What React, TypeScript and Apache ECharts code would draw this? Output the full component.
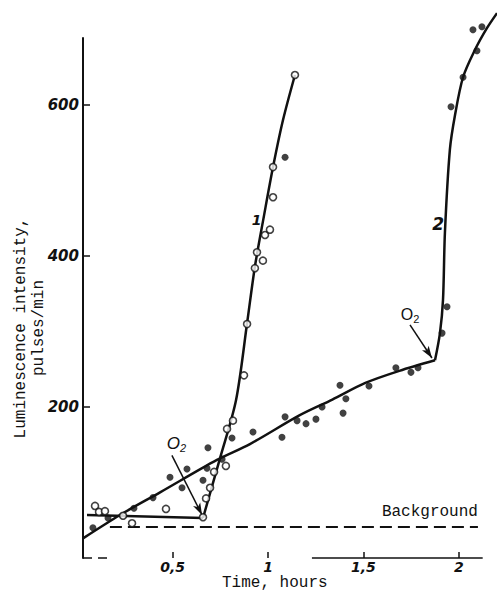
import React, { useEffect, useRef } from "react";
import * as echarts from "echarts";

// ---- data (x = hours, y = pulses/min) ----
const xTickValues = [0.5, 1, 1.5, 2];
const yTickValues = [200, 400, 600];

const backgroundLevel: [number, number][] = [
  [0.171, 41],
  [2.1, 41],
];

// curve 1 (open circles, O2 admitted at ~0.66 h)
const curve1Flat: [number, number][] = [
  [0.051, 57],
  [0.659, 53],
];
const curve1Rise: [number, number][] = [
  [0.659, 53],
  [0.748, 132],
  [0.832, 209],
  [0.89, 311],
  [0.931, 386],
  [0.979, 454],
  [1.026, 518],
  [1.078, 580],
  [1.141, 640],
];

// curve 2 (filled dots, O2 admitted at ~1.88 h)
const curve2Slow: [number, number][] = [
  [0.03, 26],
  [0.224, 57],
  [0.434, 87],
  [0.732, 130],
  [0.905, 151],
  [1.164, 189],
  [1.337, 210],
  [1.51, 232],
  [1.688, 248],
  [1.875, 262],
];
const curve2Rise: [number, number][] = [
  [1.875, 262],
  [1.901, 298],
  [1.917, 342],
  [1.927, 431],
  [1.953, 541],
  [1.98, 587],
  [2.022, 637],
  [2.084, 673],
  [2.147, 702],
  [2.2, 722],
];

const openPoints: [number, number][] = [
  [0.093, 69], [0.114, 61], [0.145, 62], [0.24, 56], [0.287, 46], [0.465, 65],
  [0.659, 54], [0.675, 79], [0.696, 93], [0.717, 114], [0.779, 122], [0.785, 171],
  [0.816, 182], [0.874, 242], [0.89, 310], [0.931, 384], [0.973, 394], [0.942, 405],
  [0.984, 428], [1.01, 435], [1.026, 478], [1.026, 518], [1.141, 640],
];

const filledPoints: [number, number][] = [
  [0.082, 40], [0.161, 53], [0.297, 66], [0.397, 80], [0.486, 107], [0.549, 93],
  [0.575, 118], [0.659, 103], [0.68, 119], [0.685, 146], [0.759, 131], [0.811, 159],
  [0.921, 167], [1.073, 160], [1.089, 187], [1.152, 182], [1.199, 178], [1.251, 184],
  [1.283, 200], [1.377, 229], [1.393, 192], [1.408, 211], [1.529, 228], [1.67, 252],
  [1.749, 246], [1.786, 252], [1.912, 298], [1.938, 333], [1.959, 598], [2.022, 637],
  [2.095, 672], [2.074, 700], [2.121, 704], [1.089, 531],
];

// annotation anchors (data coordinates)
const arrow1: [number, number][] = [[0.496, 136], [0.654, 57]];
const arrow2: [number, number][] = [[1.744, 309], [1.859, 265]];
const o2Label1: [number, number] = [0.52, 152];
const o2Label2: [number, number] = [1.744, 323];
const curveLabel1: [number, number] = [0.94, 448];
const curveLabel2: [number, number] = [1.891, 443];
const backgroundLabel: [number, number] = [2.1, 61];
const axisSegDashed: [number, number][] = [[0.03, 0], [0.18, 0]];
const axisSegSolid: [number, number][] = [[1.23, 0], [2.125, 0]];

const INK = "#111";
const numFont = {
  fontFamily: "DejaVu Sans",
  fontStyle: "italic" as const,
  fontWeight: "bold" as const,
  fontSize: 15,
  color: INK,
};

function textPoint(coord: [number, number], formatter: string, extra: any = {}) {
  return {
    coord,
    symbol: "circle",
    symbolSize: 1,
    itemStyle: { color: "rgba(0,0,0,0)" },
    label: {
      show: true,
      position: "inside",
      formatter,
      color: INK,
      ...extra,
    },
  };
}

export default function App() {
  const ref = useRef<HTMLDivElement>(null);

  useEffect(() => {
    if (!ref.current) return;
    const chart = echarts.init(ref.current, undefined, { renderer: "svg" });
    const lineStyle = { color: INK, width: 2.5 };

    chart.setOption({
      animation: false,
      backgroundColor: "#fff",
      grid: { left: 83, right: 0, top: 38, bottom: 35 },
      xAxis: {
        type: "value",
        min: 0.03,
        max: 2.2,
        axisLine: { show: false },
        splitLine: { show: false },
        axisTick: {
          show: true,
          inside: true,
          length: 6,
          customValues: xTickValues,
          lineStyle: { color: INK, width: 1.5 },
        },
        axisLabel: {
          ...numFont,
          fontSize: 14,
          lineHeight: 14,
          margin: 2,
          customValues: xTickValues,
          formatter: (v: number) => String(v).replace(".", ","),
        },
      },
      yAxis: {
        type: "value",
        min: 0,
        max: 689,
        axisLine: { show: true, lineStyle: { color: INK, width: 2 } },
        splitLine: { show: false },
        axisTick: {
          show: true,
          inside: true,
          length: 7,
          customValues: yTickValues,
          lineStyle: { color: INK, width: 1.5 },
        },
        axisLabel: {
          ...numFont,
          margin: 4,
          customValues: yTickValues,
        },
      },
      graphic: [
        {
          type: "text",
          x: 30,
          y: 328,
          rotation: Math.PI / 2,
          style: {
            text: "Luminescence intensity,\npulses/min",
            textAlign: "center",
            textVerticalAlign: "middle",
            font: '16px "Liberation Mono"',
            lineHeight: 18,
            fill: INK,
          },
        },
        {
          type: "text",
          x: 222,
          y: 591,
          style: {
            text: "Time, hours",
            font: '16px "Liberation Mono"',
            lineHeight: 16,
            textVerticalAlign: "bottom",
            fill: INK,
          },
        },
      ],
      series: [
        {
          type: "line",
          name: "background",
          data: backgroundLevel,
          symbol: "none",
          lineStyle: { color: INK, width: 2, type: [12, 6] },
          markLine: {
            silent: true,
            symbol: ["none", "none"],
            label: { show: false },
            data: [
              [
                { coord: axisSegDashed[0], lineStyle: { color: INK, width: 1.5, type: [9, 6] } },
                { coord: axisSegDashed[1] },
              ],
              [
                { coord: axisSegSolid[0], lineStyle: { color: INK, width: 1.5, type: "solid" } },
                { coord: axisSegSolid[1] },
              ],
              [
                { coord: arrow1[0], symbol: "none", lineStyle: { color: INK, width: 1.5, type: "solid" } },
                { coord: arrow1[1], symbol: "arrow", symbolSize: [6, 12] },
              ],
              [
                { coord: arrow2[0], symbol: "none", lineStyle: { color: INK, width: 1.5, type: "solid" } },
                { coord: arrow2[1], symbol: "arrow", symbolSize: [6, 12] },
              ],
            ],
          },
          markPoint: {
            silent: true,
            data: [
              textPoint(o2Label1, "O{s|2}", {
                fontFamily: "Liberation Sans",
                fontStyle: "italic",
                fontSize: 17,
                rich: { s: { fontFamily: "Liberation Sans", fontStyle: "italic", fontSize: 11, padding: [10, 0, 0, 0], color: INK } },
              }),
              textPoint(o2Label2, "O{s|2}", {
                fontFamily: "Liberation Sans",
                fontSize: 16,
                rich: { s: { fontFamily: "Liberation Sans", fontSize: 11, padding: [10, 0, 0, 0], color: INK } },
              }),
              textPoint(curveLabel1, "1", { ...numFont, fontSize: 14 }),
              textPoint(curveLabel2, "2", { ...numFont, fontSize: 17 }),
              textPoint(backgroundLabel, "Background", {
                fontFamily: "Liberation Mono",
                fontSize: 16,
                align: "right",
              }),
            ],
          },
          z: 2,
        },
        { type: "line", data: curve1Flat, symbol: "none", lineStyle, z: 3 },
        { type: "line", data: curve1Rise, symbol: "none", smooth: 0.3, lineStyle, z: 3 },
        { type: "line", data: curve2Slow, symbol: "none", smooth: 0.3, lineStyle, z: 3 },
        { type: "line", data: curve2Rise, symbol: "none", smooth: 0.3, clip: false, lineStyle, z: 3 },
        {
          type: "scatter",
          data: openPoints,
          symbol: "circle",
          symbolSize: 7,
          itemStyle: { color: "#fff", borderColor: INK, borderWidth: 1.6 },
          z: 5,
        },
        {
          type: "scatter",
          data: filledPoints,
          symbol: "circle",
          symbolSize: 7,
          clip: false,
          itemStyle: { color: INK },
          z: 5,
        },
      ],
    });

    return () => chart.dispose();
  }, []);

  return (
    <div
      ref={ref}
      style={{ position: "fixed", left: 0, top: 0, width: 497, height: 593 }}
    />
  );
}
